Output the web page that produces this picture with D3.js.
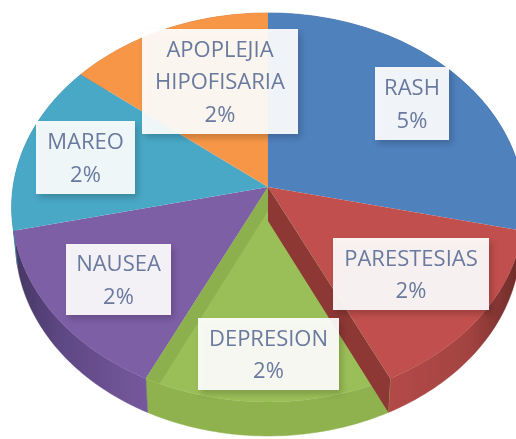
<!DOCTYPE html>
<html><head><meta charset="utf-8">
<script src="https://cdn.jsdelivr.net/npm/d3@7"></script>
<style>html,body{margin:0;padding:0;background:#fff;overflow:hidden}svg{display:block}</style>
</head><body><div id="chart"></div>
<script>
const categories = ["RASH","PARESTESIAS","DEPRESION","NAUSEA","MAREO","APOPLEJIA HIPOFISARIA"];
const labelLines = [["RASH"],["PARESTESIAS"],["DEPRESION"],["NAUSEA"],["MAREO"],["APOPLEJIA","HIPOFISARIA"]];
const sliceValues = [4.8,2.4,2.4,2.4,2.4,2.4];
const percentLabels = ["5%","2%","2%","2%","2%","2%"];
const topColors = ["#4f81bd","#c0504d","#9bbf58","#7d5fa6","#4aa8c6","#f79646"];
const sideColors = ["#3f6a9e","#a04240","#8fb24f","#6b4f92","#3c8ba3","#cf7c38"];
const wallColors = ["#3f6a9e","#8e3836","#8db04f","#6b4f92","#3c8ba3","#cf7c38"];
const labelBoxes = [[375,67,74,73],[333,238,156,72],[198,318,141,72],[66,244,105,71],[36,121,99,73],[142,29,156,105]];

const W=516,H=439;
const svg=d3.select("#chart").append("svg").attr("width",W).attr("height",H);
const defs=svg.append("defs");
defs.append("filter").attr("id","soft").append("feGaussianBlur").attr("stdDeviation",0.45);
defs.append("filter").attr("id","sh").attr("x","-20%").attr("y","-20%").attr("width","140%").attr("height","140%")
  .append("feGaussianBlur").attr("stdDeviation",3);
const grad=(id,stops)=>{const g=defs.append("linearGradient").attr("id",id).attr("x1",0).attr("x2",1).attr("y1",0).attr("y2",0);
  stops.forEach(s=>g.append("stop").attr("offset",s[0]).attr("stop-color",s[1]));};
grad("sidePurple",[[0,"#463663"],[0.35,"#5e4784"],[1,"#76599c"]]);
grad("sideRed",[[0,"#b24a47"],[0.6,"#a34341"],[1,"#6b2a28"]]);

const cx=268, apexY=187, k=-0.105, a=255, b=192.4, depth=34;
function project(theta,z){
  const u=Math.sin(theta), v=-Math.cos(theta), d=1+k*v;
  return [cx+a*(1-0.015*z)*u/d, apexY+z*depth+b*v/d];
}
const line=d3.line();
const pie=d3.pie().sort(null).value(d=>d)(sliceValues);
const samples=(s,e)=>d3.range(s,e,0.02).concat([e]);
const topPts=d=>[[cx,apexY]].concat(samples(d.startAngle,d.endAngle).map(t=>project(t,0)));
const sidePts=d=>{const ts=samples(d.startAngle,d.endAngle);
  return ts.map(t=>project(t,0)).concat(ts.slice().reverse().map(t=>project(t,1)));};

const g=svg.append("g").attr("filter","url(#soft)");
const sideFill=i=>i===3?"url(#sidePurple)":i===1?"url(#sideRed)":sideColors[i];
g.selectAll("path.side").data(pie).join("path").attr("class","side")
  .attr("d",d=>line(sidePts(d))+"Z").attr("fill",(d,i)=>sideFill(i)).attr("stroke",(d,i)=>sideFill(i)).attr("stroke-width",0.5);
g.selectAll("path.top").data(pie).join("path").attr("class","top")
  .attr("d",d=>line(topPts(d))+"Z").attr("fill",(d,i)=>topColors[i]);
const green=pie[2];
const edge=project(green.startAngle,0), edgeLow=project(green.startAngle,1);
g.append("path").attr("d",line([[cx,apexY],edge,edgeLow,[cx,apexY+depth]])+"Z").attr("fill",wallColors[1]);
const gl=project(green.endAngle,0), gl2=project(green.endAngle-0.055,0);
g.append("path").attr("d",line([[cx,apexY],gl,gl2,[cx,apexY+24]])+"Z").attr("fill",wallColors[2]);

const lab=svg.append("g").attr("class","labels");
labelBoxes.forEach((box,i)=>{
  lab.append("rect").attr("x",box[0]+3).attr("y",box[1]+4).attr("width",box[2]).attr("height",box[3])
    .attr("fill","#000").attr("opacity",0.18).attr("filter","url(#sh)");
  lab.append("rect").attr("x",box[0]).attr("y",box[1]).attr("width",box[2]).attr("height",box[3])
    .attr("fill","#fff").attr("opacity",0.92);
  const lines=labelLines[i].concat([percentLabels[i]]);
  const lh=32.5, total=lh*(lines.length-1);
  const mx=box[0]+box[2]/2, my=box[1]+box[3]/2;
  lines.forEach((t,j)=>{
    lab.append("text").attr("x",mx).attr("y",my-total/2+j*lh).attr("dy","0.36em")
      .attr("text-anchor","middle").attr("font-family","'Open Sans',sans-serif").attr("font-size",22)
      .attr("fill","#6a7a9e").attr("filter","url(#soft)").text(t);
  });
});
</script></body></html>
